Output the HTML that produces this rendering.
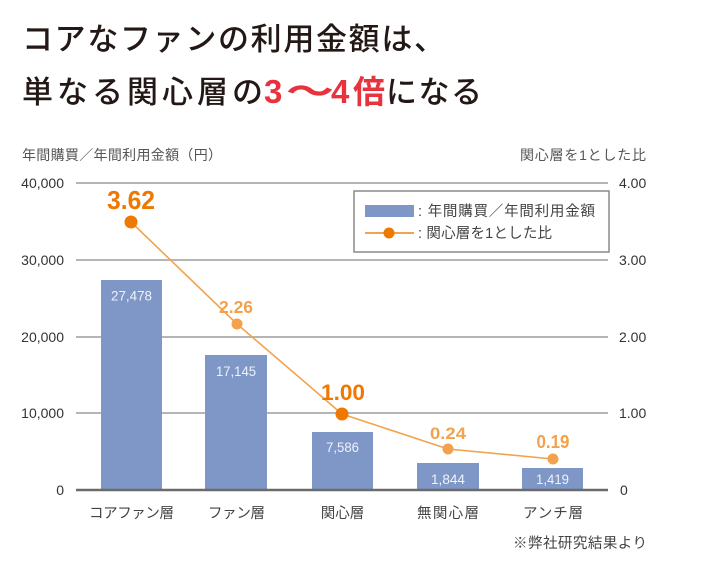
<!DOCTYPE html>
<html><head><meta charset="utf-8"><style>
html,body{margin:0;padding:0;background:#fff;}
svg{display:block;}
text{font-family:"Liberation Sans","Noto Sans CJK JP",sans-serif;}
</style></head><body>
<svg width="723" height="567" viewBox="0 0 723 567" xmlns="http://www.w3.org/2000/svg">
<rect width="723" height="567" fill="#fff"/>
<!-- Title -->
<text x="22" y="50" font-size="31" font-weight="500" fill="#231815" textLength="423" lengthAdjust="spacing">コアなファンの利用金額は、</text>
<text x="22" y="103" font-size="31" font-weight="500" fill="#231815" textLength="241" lengthAdjust="spacing">単なる関心層の</text>
<text x="264" y="103" font-size="33" font-weight="bold" fill="#e8333f">3</text>
<text x="0" y="0" transform="translate(286,103) scale(1.45,1)" font-size="33" font-weight="bold" fill="#e8333f">～</text>
<text x="331" y="103" font-size="33" font-weight="bold" fill="#e8333f">4</text>
<text x="353" y="103" font-size="32" font-weight="bold" fill="#e8333f">倍</text>
<text x="386" y="103" font-size="31" font-weight="500" fill="#231815" textLength="96" lengthAdjust="spacing">になる</text>

<!-- Axis titles -->
<text x="22" y="160" font-size="14" fill="#555" textLength="200" lengthAdjust="spacing">年間購買／年間利用金額（円）</text>
<text x="520" y="160" font-size="14" fill="#555" textLength="126" lengthAdjust="spacing">関心層を1とした比</text>

<!-- Gridlines -->
<g stroke="#b5b5b5" stroke-width="2">
<line x1="76" y1="183" x2="608" y2="183"/>
<line x1="76" y1="260" x2="608" y2="260"/>
<line x1="76" y1="337" x2="608" y2="337"/>
<line x1="76" y1="413" x2="608" y2="413"/>
</g>

<!-- Left axis labels -->
<g font-size="14" fill="#333" text-anchor="end">
<text x="64" y="188">40,000</text>
<text x="64" y="265">30,000</text>
<text x="64" y="342">20,000</text>
<text x="64" y="418">10,000</text>
<text x="64" y="495">0</text>
</g>
<!-- Right axis labels -->
<g font-size="14" fill="#333">
<text x="619" y="188">4.00</text>
<text x="619" y="265">3.00</text>
<text x="619" y="342">2.00</text>
<text x="619" y="418">1.00</text>
<text x="620" y="495">0</text>
</g>

<!-- Bars -->
<g fill="#7f97c6">
<rect x="101" y="280" width="61" height="210"/>
<rect x="205" y="355" width="62" height="135"/>
<rect x="312" y="432" width="61" height="58"/>
<rect x="417" y="463" width="62" height="27"/>
<rect x="522" y="468" width="61" height="22"/>
</g>
<line x1="76" y1="490" x2="608" y2="490" stroke="#6b6b6b" stroke-width="2.5"/>

<!-- Bar labels -->
<g font-size="13.5" fill="#eef2fa" text-anchor="middle">
<text x="131.5" y="300.5" textLength="41" lengthAdjust="spacingAndGlyphs">27,478</text>
<text x="236" y="376" textLength="40" lengthAdjust="spacingAndGlyphs">17,145</text>
<text x="342.5" y="452" textLength="33" lengthAdjust="spacingAndGlyphs">7,586</text>
<text x="448" y="484" textLength="34" lengthAdjust="spacingAndGlyphs">1,844</text>
<text x="552.5" y="484" textLength="33" lengthAdjust="spacingAndGlyphs">1,419</text>
</g>

<!-- Line -->
<polyline points="131,222 237,324 342,414 448,449 553,459" fill="none" stroke="#f4a24e" stroke-width="1.6"/>
<circle cx="131" cy="222" r="6.5" fill="#ee7800"/>
<circle cx="237" cy="324" r="5.5" fill="#f2a24c"/>
<circle cx="342" cy="414" r="6.5" fill="#ee7800"/>
<circle cx="448" cy="449" r="5.5" fill="#f2a24c"/>
<circle cx="553" cy="459" r="5.5" fill="#f2a24c"/>

<!-- Line labels -->
<g font-weight="bold" text-anchor="middle">
<text x="131" y="209" font-size="26" fill="#ee7800" textLength="48" lengthAdjust="spacingAndGlyphs">3.62</text>
<text x="236" y="313" font-size="17.5" fill="#f2a24c" textLength="34" lengthAdjust="spacingAndGlyphs">2.26</text>
<text x="343" y="400" font-size="22.5" fill="#ee7800" textLength="44" lengthAdjust="spacingAndGlyphs">1.00</text>
<text x="448" y="439" font-size="17" fill="#f2a24c" textLength="36" lengthAdjust="spacingAndGlyphs">0.24</text>
<text x="553" y="448" font-size="18" fill="#f2a24c" textLength="33" lengthAdjust="spacingAndGlyphs">0.19</text>
</g>

<!-- Legend -->
<rect x="354" y="191" width="255" height="61" fill="#fff" stroke="#8a8a8a" stroke-width="1.5"/>
<rect x="365" y="205" width="49" height="12" fill="#7f97c6"/>
<line x1="365" y1="233" x2="414" y2="233" stroke="#f4a24e" stroke-width="2"/>
<circle cx="389" cy="233" r="5.5" fill="#ee7800"/>
<text x="418" y="216" font-size="14.5" fill="#444" textLength="177" lengthAdjust="spacing">: 年間購買／年間利用金額</text>
<text x="418" y="238" font-size="14.5" fill="#444" textLength="134" lengthAdjust="spacing">: 関心層を1とした比</text>

<!-- Categories -->
<g font-size="14.5" fill="#444" text-anchor="middle">
<text x="131.5" y="518" textLength="85" lengthAdjust="spacing">コアファン層</text>
<text x="236.5" y="518" textLength="57" lengthAdjust="spacing">ファン層</text>
<text x="342.5" y="518">関心層</text>
<text x="448" y="518" textLength="62" lengthAdjust="spacing">無関心層</text>
<text x="553" y="518" textLength="60" lengthAdjust="spacing">アンチ層</text>
</g>
<text x="513" y="548" font-size="14.5" fill="#444" textLength="134" lengthAdjust="spacing">※弊社研究結果より</text>
</svg>
</body></html>
